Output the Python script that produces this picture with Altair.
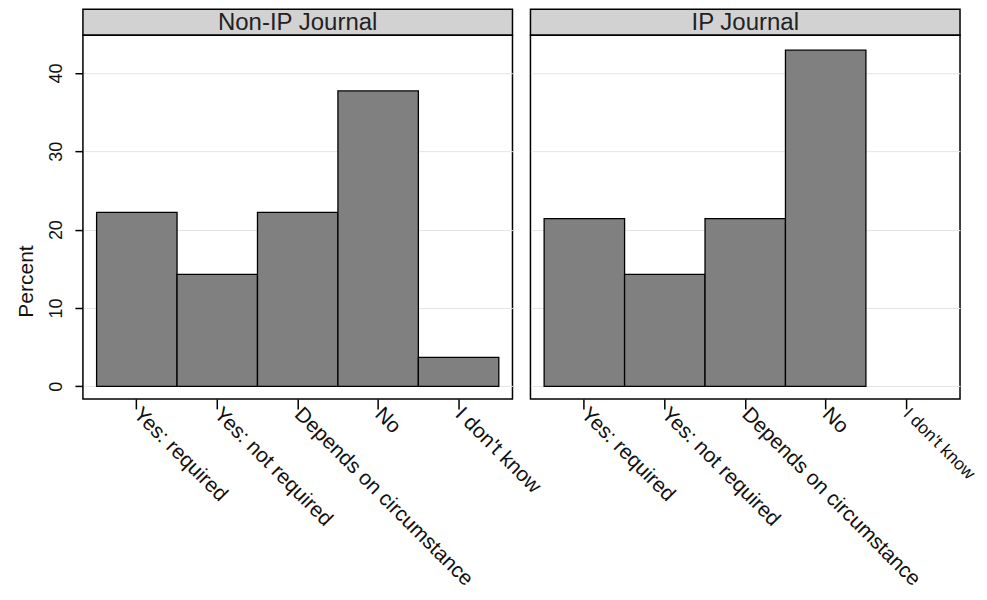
import altair as alt
import pandas as pd

categories = ["Yes: required", "Yes: not required", "Depends on circumstance", "No", "I don't know"]
non_ip_pct = [22.2, 14.3, 22.2, 37.7, 3.7]
ip_pct = [21.4, 14.3, 21.4, 42.9, 0.0]
panels = ["Non-IP Journal", "IP Journal"]
y_ticks = [0, 10, 20, 30, 40]

FONT = "Liberation Sans"
W = 430
H_PLOT = 364
H_HEAD = 26


def bars_chart(values, show_axis, last_size):
    df = pd.DataFrame({"answer": categories, "percent": values})
    x = alt.X(
        "answer:N",
        sort=categories,
        scale=alt.Scale(domain=categories, paddingInner=0, paddingOuter=0.17),
        axis=alt.Axis(
            title=None,
            labelAngle=45,
            labelAlign="left",
            labelBaseline="middle",
            labelFontSize={"condition": {"test": "datum.label === \"I don't know\"", "value": last_size}, "value": 21},
            labelFont=FONT,
            labelColor="#111111",
            labelPadding=2,
            labelLimit=0,
            tickSize=10,
            tickColor="black",
            tickWidth=1.5,
            domain=False,
            grid=False,
        ),
    )
    if show_axis:
        yaxis = alt.Axis(
            title="Percent",
            titleFontSize=21,
            titleFont=FONT,
            titleFontWeight="normal",
            titleColor="#111111",
            titlePadding=11,
            titleY=246,
            values=y_ticks,
            labelAngle=270,
            labelFontSize=18,
            labelFont=FONT,
            labelColor="#111111",
            labelPadding=9,
            tickSize=8,
            tickColor="black",
            tickWidth=1.5,
            domain=False,
            grid=True,
            gridColor="#e4e4e4",
            gridWidth=1,
        )
    else:
        yaxis = alt.Axis(
            title=None,
            values=y_ticks,
            labels=False,
            ticks=False,
            domain=False,
            grid=True,
            gridColor="#e4e4e4",
            gridWidth=1,
        )
    return (
        alt.Chart(df)
        .transform_filter(alt.datum.percent > 0)
        .mark_bar(fill="#808080", stroke="black", strokeWidth=1.3)
        .encode(
            x=x,
            y=alt.Y("percent:Q", scale=alt.Scale(domain=[-1.6, 44.8], nice=False, zero=False), axis=yaxis),
            y2=alt.datum(0),
        )
        .properties(width=W, height=H_PLOT, view=alt.ViewBackground(fill="white", stroke="black", strokeWidth=1.5))
    )


def head_chart(title):
    head_df = pd.DataFrame({"label": [title]})
    return (
        alt.Chart(head_df)
        .mark_text(font=FONT, fontSize=24, color="#222222", baseline="middle", align="center")
        .encode(x=alt.value(W / 2), y=alt.value(H_HEAD / 2 + 1), text="label:N")
        .properties(width=W, height=H_HEAD, view=alt.ViewBackground(fill="#d2d2d2", stroke="black", strokeWidth=1.5))
    )


chart = (
    alt.concat(
        head_chart(panels[0]),
        head_chart(panels[1]),
        bars_chart(non_ip_pct, True, 21),
        bars_chart(ip_pct, False, 17.5),
        columns=2,
        spacing={"row": 0, "column": 18},
        bounds="flush",
    )
    .properties(padding={"left": 7, "top": 0, "right": 0, "bottom": 0}, background="white")
)

chart.save("out.html", embed_options={"renderer": "svg", "actions": False})
